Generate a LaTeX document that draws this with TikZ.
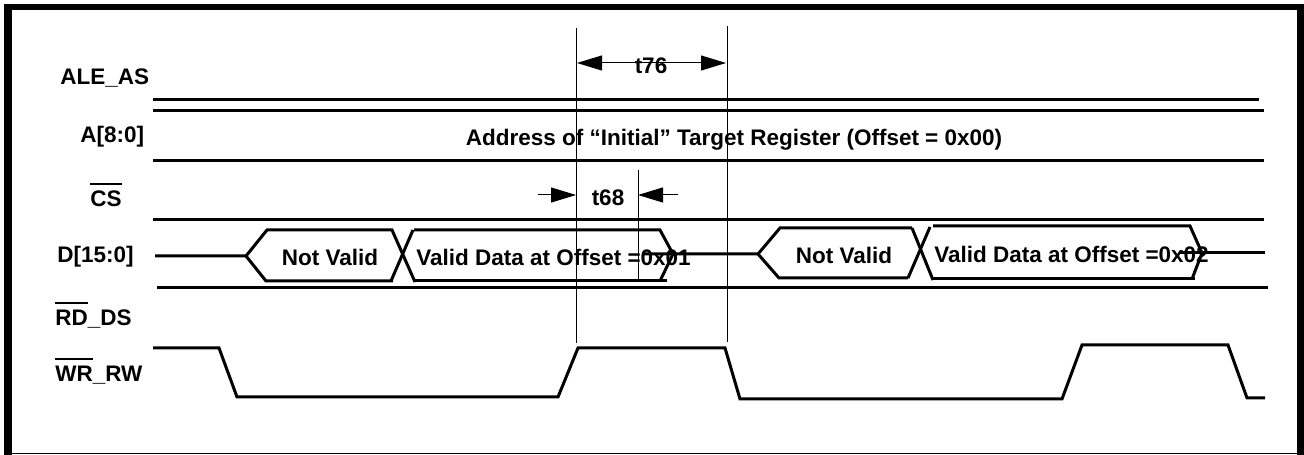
\documentclass[tikz,border=0pt]{standalone}
\usepackage{fontspec}
\setmainfont{Liberation Sans}
\usetikzlibrary{arrows.meta}
\usetikzlibrary{calc}
\usetikzlibrary{positioning}
\newcommand{\barsig}[1]{\vbox{\hrule height 1.1pt\kern 3.5pt\hbox{#1}}}
\tikzset{
  sig/.style={line width=0.06cm},
  guide/.style={line width=0.02cm},
  lbl/.style={font=\bfseries\fontsize{12.8}{15}\selectfont, inner sep=0pt},
  dimarrow/.style={line width=0.02cm, -{Triangle[length=0.5cm,width=0.3cm]}},
}

\begin{document}
\begin{tikzpicture}[x=0.02cm, y=-0.02cm]
            \useasboundingbox (0,0) rectangle (1304,455);
            % frame
            \fill (4,4) rectangle (12,455);
            \fill (4,4) rectangle (1304,10);
            \fill (1297,4) rectangle (1304,455);
            \draw[line width=0.03cm] (4,453.5) -- (1304,453.5);

            % signal names
            \node[lbl, anchor=west] (ale)  at (60,78)  {ALE\_AS};
            \node[lbl, anchor=west] (addr) at (80,137) {A[8:0]};
            \node[lbl, anchor=west] (cs)   at (90,195) {\barsig{CS}};
            \node[lbl, anchor=west] (data) at (57,257) {D[15:0]};
            \node[lbl, anchor=west] (rd)   at (55,315) {\barsig{RD}\_DS};
            \node[lbl, anchor=west] (wr)   at (55,371) {\barsig{WR}\_RW};

            % ALE_AS, A[8:0], CS
            \draw[sig] (153,100) -- (1259,100);
            \draw[sig] (153,111) -- (1264,111);
            \draw[sig] (153,161) -- (1264,161);
            \draw[sig] (153,220) -- (1264,220);
            \node[lbl] (addrtxt) at (734,140) {Address of “Initial” Target Register (Offset = 0x00)};

            % D[15:0]
            \draw[sig] (155,256) -- (246,256) -- (267,230) -- (393,230);
            \draw[sig] (246,256) -- (266,281) -- (393,281);
            \draw[sig] (391,281) -- (413,230);
            \draw[sig] (392,230) -- (415,282);
            \draw[sig] (414,230) -- (660,230) -- (673,254) -- (660,281);
            \draw[sig] (415,281) -- (667,281);
            \draw[sig] (642,254) -- (758,254) -- (780,228) -- (912,228);
            \draw[sig] (758,254) -- (779,278) -- (908,278);
            \draw[sig] (908,278) -- (930,227);
            \draw[sig] (912,228) -- (933,280);
            \draw[sig] (933,226) -- (1190,226) -- (1202,253) -- (1192,279);
            \draw[sig] (933,279) -- (1195,279);
            \draw[sig] (1180,253) -- (1265,253);
            \draw[sig] (157,288) -- (1268,288);
            \node[lbl] (nv1) at (330,257) {Not Valid};
            \node[lbl, anchor=west] (vd1) at (416,257) {Valid Data at Offset =0x01};
            \node[lbl] (nv2) at (844,255) {Not Valid};
            \node[lbl, anchor=west] (vd2) at (934,254) {Valid Data at Offset =0x02};

            % WR_RW
            \draw[sig] (153,348) -- (219,348) -- (237,397) -- (558,397) -- (578,348) -- (725,348)
                 -- (740,399) -- (1062,399) -- (1082,345) -- (1228,345) -- (1247,398) -- (1265,398);

            % timing
            \coordinate (m1t) at (576,28);  \coordinate (m1b) at (576,343);
            \coordinate (m2t) at (727,26);  \coordinate (m2b) at (727,342);
            \coordinate (m3t) at (638,170); \coordinate (m3b) at (638,282);
            \draw[guide] (m1t) -- (m1b);
            \draw[guide] (m2t) -- (m2b);
            \draw[guide] (m3t) -- (m3b);
            \coordinate (t76a) at (577,63);  \coordinate (t76b) at (726,63);
            \draw[dimarrow, {Triangle[length=0.5cm,width=0.3cm]}-{Triangle[length=0.5cm,width=0.3cm]}] (t76a) -- (t76b);
            \node[lbl] (t76) at (651,66) {t76};
            \coordinate (t68a) at (538,195); \coordinate (t68b) at (678,195);
            \draw[dimarrow] (t68a) -- (m1t |- t68a);
            \draw[dimarrow] (t68b) -- (m3t |- t68b);
            \node[lbl] (t68) at (608,198) {t68};
        \end{tikzpicture}
\end{document}
